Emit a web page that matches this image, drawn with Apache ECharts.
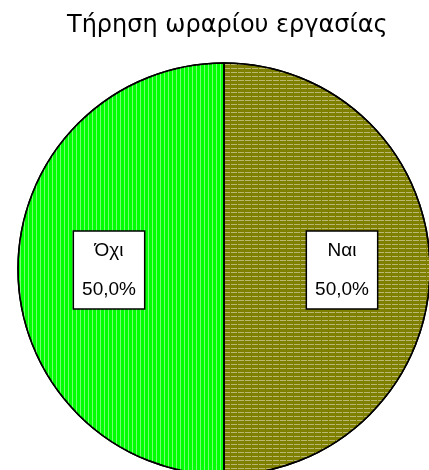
<!DOCTYPE html>
<html>
<head>
<meta charset="utf-8">
<script src="https://cdn.jsdelivr.net/npm/echarts@6/dist/echarts.min.js"></script>
<style>
  html, body { margin: 0; padding: 0; background: #fff; }
  #chart { width: 429px; height: 470px; }
</style>
</head>
<body>
<div id="chart"></div>
<script>
var categories = ['Ναι', 'Όχι'];
var values = [50, 50];
var colors = ['#808000', '#00ff00'];

var chart = echarts.init(document.getElementById('chart'));

var pieData = [];
for (var i = 0; i < categories.length; i++) {
    pieData.push({ name: categories[i], value: values[i] });
}

var option = {
    animation: false,
    title: {
        text: 'Τήρηση ωραρίου εργασίας',
        left: 62,
        top: 9,
        textStyle: {
            fontFamily: 'DejaVu Sans, Verdana, sans-serif',
            fontWeight: 'normal',
            fontSize: 24,
            color: '#000'
        }
    },
    color: colors,
    series: [
        {
            type: 'pie',
            center: [224, 269],
            radius: 206,
            startAngle: 90,
            clockwise: true,
            data: pieData,
            itemStyle: {
                borderColor: '#000',
                borderWidth: 1.5
            },
            label: {
                position: 'inside',
                formatter: function (p) {
                    return p.name + '\n\n' + p.percent.toFixed(1).replace('.', ',') + '%';
                },
                fontFamily: 'Liberation Sans, Arial, sans-serif',
                fontSize: 19,
                lineHeight: 19.5,
                color: '#000',
                backgroundColor: '#fff',
                borderColor: '#000',
                borderWidth: 1.5,
                padding: [9, 8]
            },
            labelLine: { show: false },
            emphasis: { disabled: true }
        }
    ]
};

// decal patterns: horizontal dashes on the olive slice, vertical stripes on the green one
option.series[0].data[0].itemStyle = {
    decal: {
        symbol: 'rect',
        symbolSize: 1,
        color: 'rgba(255,255,255,0.45)',
        dashArrayX: [6, 1],
        dashArrayY: [1, 3]
    }
};
option.series[0].data[1].itemStyle = {
    decal: {
        symbol: 'rect',
        symbolSize: 1,
        color: 'rgba(255,255,255,0.45)',
        dashArrayX: [1, 3],
        dashArrayY: [4, 0]
    }
};

option.series[0].labelLayout = function (params) {
    var mid = params.labelRect.x + params.labelRect.width / 2;
    return { dx: mid > 224 ? 12 : -9, dy: 1 };
};

chart.setOption(option);
</script>
</body>
</html>
